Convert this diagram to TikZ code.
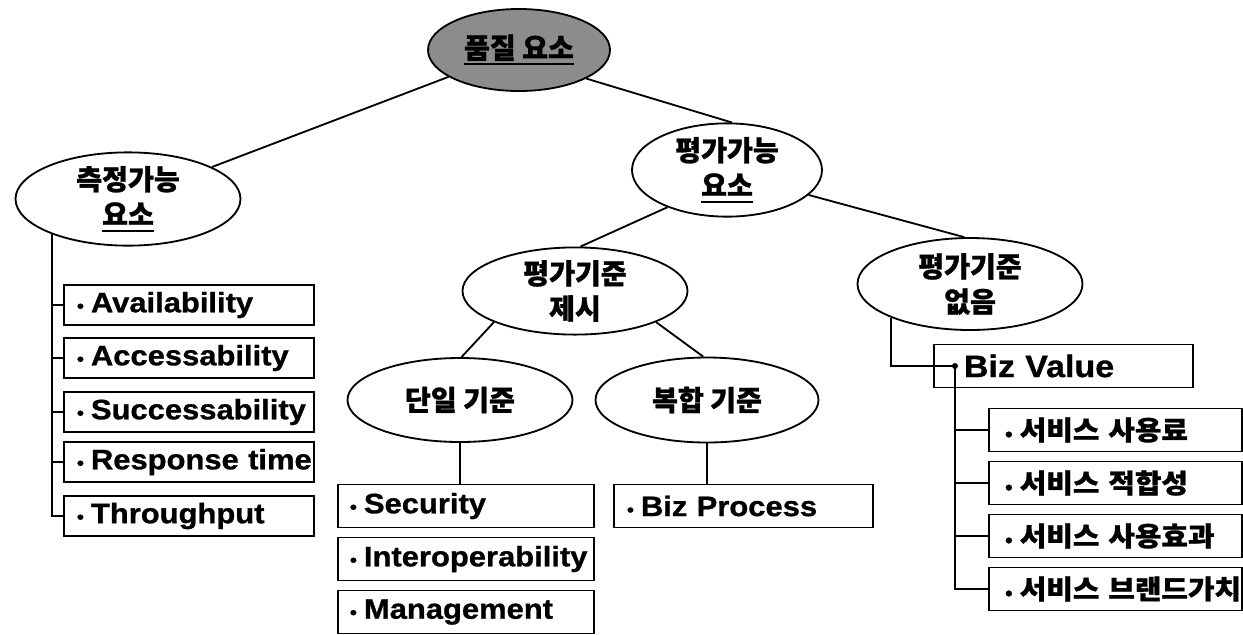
\documentclass[tikz,border=0pt]{standalone}
\usepackage{fontspec}
\usetikzlibrary{shapes.geometric}
\newfontfamily\kr{Noto Sans CJK KR}[FakeBold=1]
\newfontfamily\krw{Noto Sans CJK KR}[FakeBold=1,FakeStretch=1.08]
\newfontfamily\lat{Liberation Sans}[FakeStretch=1.1,FakeBold=1]
\newdimen\px \px=0.025cm
\newcommand\myul[1]{\setbox0\hbox{#1}\leavevmode\rlap{\rule[-5pt]{\wd0}{1.6pt}}\box0}
\newcommand\bul{{\fontsize{13}{13}\selectfont •}\hspace{7\px}}
\tikzset{
  conn/.style={line width=1.3pt},
  ell/.style={draw, line width=1.3pt, ellipse, inner sep=0pt, align=center,
    font=\kr\bfseries\fontsize{20}{25}\selectfont},
  lbox/.style={draw, line width=1.3pt, rectangle, anchor=west, inner ysep=0pt,
    inner xsep=13\px, minimum height=40\px, text width=224\px, align=left,
    font=\lat\bfseries\fontsize{20}{22}\selectfont},
  mbox/.style={lbox, minimum height=43\px, text width=232\px, inner xsep=12\px},
  pbox/.style={lbox, minimum height=43\px, text width=233\px},
  vbox/.style={lbox, minimum height=43\px, text width=199\px, inner xsep=30\px,
    font=\lat\bfseries\fontsize{22}{24}\selectfont},
  kbox/.style={draw, line width=1.3pt, rectangle, anchor=west, inner ysep=0pt,
    inner xsep=16\px, minimum height=43\px, text width=221\px, align=left,
    font=\krw\bfseries\fontsize{19}{21}\selectfont},
}
\begin{document}
\begin{tikzpicture}[x=0.025cm, y=-0.025cm]
\useasboundingbox (0,0) rectangle (1243,634);

% ellipses
\node[ell, fill=black!45, minimum width=182\px, minimum height=82\px] (top) at (519,50) {\myul{품질 요소}};
\node[ell, minimum width=225\px, minimum height=82\px] (meas) at (128,199) {측정가능\\\myul{요소}};
\node[ell, minimum width=190\px, minimum height=76\px] (eval) at (727,170) {평가가능\\\myul{요소}};
\node[ell, minimum width=225\px, minimum height=87\px] (crit) at (575,291) {평가기준\\제시};
\node[ell, minimum width=225\px, minimum height=92\px] (none) at (970,284) {평가기준\\없음};
\node[ell, minimum width=225\px, minimum height=84\px] (single) at (460,400) {단일 기준};
\node[ell, minimum width=223\px, minimum height=85\px] (comp) at (707,400) {복합 기준};

% left boxes
\node[lbox] (avail) at (63,305) {\mbox{\bul Availability}};
\node[lbox] (acc)   at (63,358) {\mbox{\bul Accessability}};
\node[lbox] (succ)  at (63,412) {\mbox{\bul Successability}};
\node[lbox] (resp)  at (63,462) {\mbox{\bul Response time}};
\node[lbox] (thr)   at (63,516) {\mbox{\bul Throughput}};

% middle boxes
\node[mbox] (sec)   at (337,506) {\mbox{\bul Security}};
\node[mbox] (inter) at (337,559) {\mbox{\bul Interoperability}};
\node[mbox] (mgmt)  at (337,612) {\mbox{\bul Management}};
\node[pbox] (bp)    at (613,506) {\mbox{\bul Biz Process}};

% right boxes
\node[vbox] (bv) at (933,366) {\mbox{Biz Value}};
\node[kbox] (s1) at (988,430) {\mbox{\bul 서비스 사용료}};
\node[kbox] (s2) at (988,483) {\mbox{\bul 서비스 적합성}};
\node[kbox] (s3) at (988,536) {\mbox{\bul 서비스 사용효과}};
\node[kbox] (s4) at (988,589) {\mbox{\bul 서비스 브랜드가치}};
\coordinate (bvdot) at ([xshift=22\px]bv.west);

% connectors
\draw[conn] (top) -- (meas);
\draw[conn] (top.-23) -- (eval.84);
\draw[conn] (eval.-148) -- (crit.83);
\draw[conn] (eval.-17) -- (none.97);
\draw[conn] (crit.-159) -- (single.88);
\draw[conn] (crit.-21) -- (comp.95);
\draw[conn] (single.south) -- (single.south |- sec.north);
\draw[conn] (comp.south) -- (comp.south |- bp.north);
\foreach \b in {avail,acc,succ,resp,thr}
  \draw[conn] (meas.-155) |- (\b.west);
\draw[conn] (none.-157) |- (bvdot);
\foreach \b in {s1,s2,s3,s4}
  \draw[conn] (bvdot) |- (\b.west);
\fill (bvdot) circle (3\px);
\end{tikzpicture}
\end{document}
